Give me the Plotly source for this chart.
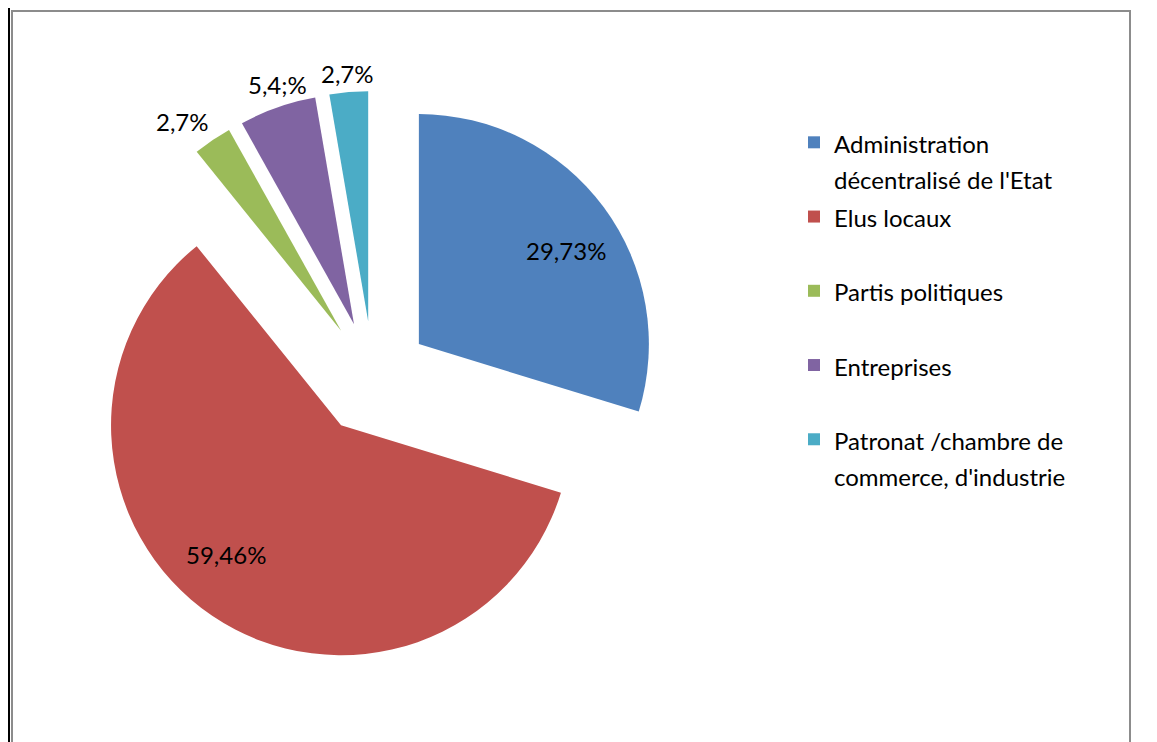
import math
import plotly.graph_objects as go

W, H = 1157, 742
OFF = 8  # the page puts the figure 8px in from the corner

labels = [
    "Administration<br>décentralisé de l'Etat",
    "Elus locaux<br> ",
    "Partis politiques<br> ",
    "Entreprises<br> ",
    "Patronat /chambre de<br>commerce, d'industrie",
]
values = [29.73, 59.46, 2.7, 5.4, 2.7]
value_text = ["29,73%", "59,46%", "2,7%", "5,4;%", "2,7%"]
colors = ["#4F81BD", "#C0504D", "#9BBB59", "#8064A2", "#4BACC6"]

FONT = "Lato"
PULL = 0.248
# pie centre / radius in screen pixels
CX, CY, R = 373 - OFF, 378 - OFF, 230
# where each value label sits: distance in radii from the pie centre,
# and a small angular nudge (degrees) off the slice's mid angle
label_r = [1.007, 1.0, 1.387, 1.34, 1.33]
label_dtheta = [3.0, 5.7, -2.6, 1.4, 0.0]

half = R * (1 + PULL)
dom_x = [(CX - half) / W, (CX + half) / W]
dom_y = [1 - (CY + half) / H, 1 - (CY - half) / H]

fig = go.Figure(go.Pie(
    labels=[f"<span style='font-size:24px'>{l}</span>" for l in labels],
    values=values, text=value_text, textinfo="none",
    sort=False, direction="clockwise", rotation=0,
    pull=[PULL] * len(values),
    marker=dict(colors=colors, line=dict(width=0)),
    domain=dict(x=dom_x, y=dom_y),
    hovertemplate="%{label}<br>%{text}<extra></extra>",
))

# value labels, placed along each slice's mid angle
total = sum(values)
start = 0.0
for v, txt, k, dt in zip(values, value_text, label_r, label_dtheta):
    mid = math.radians((start + v / 2) / total * 360 + dt)
    start += v
    px = CX + k * R * math.sin(mid)
    py = CY - k * R * math.cos(mid)
    fig.add_annotation(x=px / W, y=1 - py / H, xref="paper", yref="paper",
                       xanchor="center", yanchor="middle",
                       text=txt, showarrow=False,
                       font=dict(family=FONT, size=24, color="#000000"))

fig.update_layout(
    width=W, height=H, autosize=False,
    margin=dict(l=0, r=0, t=0, b=0, autoexpand=False),
    paper_bgcolor="#FFFFFF", plot_bgcolor="#FFFFFF",
    font=dict(family=FONT, size=24, color="#000000"),
    showlegend=True,
    legend=dict(x=(794 - OFF) / W, y=1 - (118 - OFF) / H,
                xanchor="left", yanchor="top",
                valign="top", bgcolor="rgba(0,0,0,0)",
                font=dict(family=FONT, size=27.4)),
    shapes=[
        # outer frame of the chart area
        dict(type="rect", xref="paper", yref="paper",
             x0=(12 - OFF) / W, x1=(1130 - OFF) / W, y0=-0.05, y1=1 - (11 - OFF) / H,
             line=dict(color="#8C8C8C", width=2), fillcolor="rgba(0,0,0,0)"),
        # black page border on the left
        dict(type="rect", xref="paper", yref="paper",
             x0=0, x1=2 / W, y0=0, y1=1,
             line=dict(width=0), fillcolor="#000000"),
    ],
)

fig.write_html("out.html")
